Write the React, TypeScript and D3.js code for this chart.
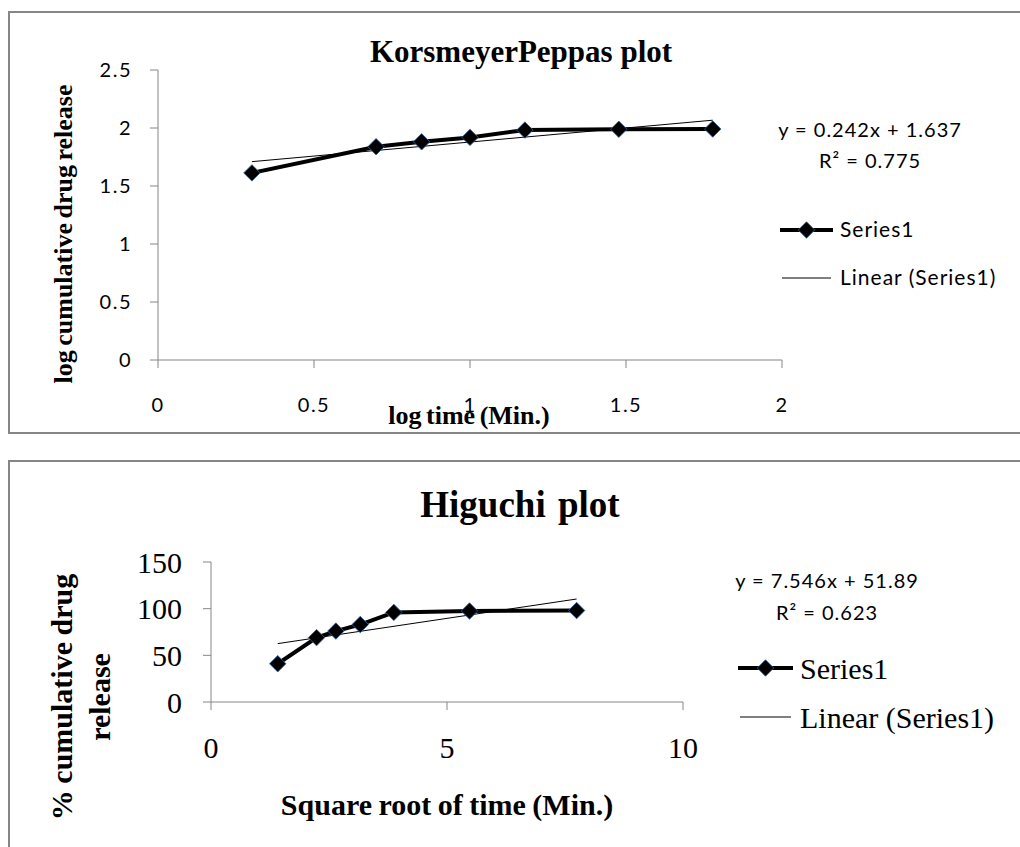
import React from "react";
import * as d3 from "d3";

// Korsmeyer-Peppas: log time (min) vs log cumulative % released
const kpLogTime = [0.301, 0.699, 0.845, 1.0, 1.176, 1.477, 1.778];
const kpLogRelease = [1.613, 1.839, 1.881, 1.919, 1.982, 1.989, 1.991];
const kpXTicks = [0, 0.5, 1, 1.5, 2];
const kpYTicks = [0, 0.5, 1, 1.5, 2, 2.5];
const kpFit = [0.242, 1.637]; // slope, intercept
const kpFitText = ["y = 0.242x + 1.637", "R² = 0.775"];

// Higuchi: square root of time vs % cumulative released
const hgSqrtTime = [1.414, 2.236, 2.646, 3.162, 3.873, 5.477, 7.746];
const hgRelease = [41, 69, 76, 83, 96, 97.5, 98];
const hgXTicks = [0, 5, 10];
const hgYTicks = [0, 50, 100, 150];
const hgFit = [7.546, 51.89];
const hgFitText = ["y = 7.546x + 51.89", "R² = 0.623"];

const legendLabels = ["Series1", "Linear (Series1)"];

const SERIF = '"Liberation Serif", "Times New Roman", serif';
const SANS = 'Lato, "Open Sans", sans-serif';
const AXIS = "#868686";

const diamond = d3.symbol().type(d3.symbolSquare).size(135)();

const Panel = (p: any) => {
  const x = d3.scaleLinear().domain(p.xDomain).range(p.xRange);
  const y = d3.scaleLinear().domain(p.yDomain).range(p.yRange);
  const pts = p.xs.map((v: number, i: number) => [v, p.ys[i]]);
  const line = d3
    .line<number[]>()
    .x((d) => x(d[0]))
    .y((d) => y(d[1]));
  const x0 = d3.min(p.xs) as number;
  const x1 = d3.max(p.xs) as number;
  const fit = [x0, x1].map((v) => [v, p.fit[0] * v + p.fit[1]]);
  const [y0px] = p.yRange;
  const xAxisY = y(0);
  const yAxisX = x(0);

  return (
    <g>
      <rect
        x={p.box[0]}
        y={p.box[1]}
        width={p.box[2]}
        height={p.box[3]}
        fill="white"
        stroke="#868686"
        strokeWidth={2}
      />
      <text
        x={p.titlePos[0]}
        y={p.titlePos[1]}
        textAnchor="middle"
        fontFamily={SERIF}
        fontWeight="bold"
        fontSize={p.titleSize}
        wordSpacing={p.titleWordSpacing}
      >
        {p.title}
      </text>

      {/* axes */}
      <line x1={yAxisX} x2={yAxisX} y1={y(p.yDomain[1])} y2={y0px} stroke={AXIS} />
      <line x1={x(p.xDomain[0])} x2={x(p.xDomain[1])} y1={xAxisY} y2={xAxisY} stroke={AXIS} />
      {p.yTicks.map((t: number) => (
        <g key={"y" + t}>
          <line x1={yAxisX - p.tick} x2={yAxisX} y1={y(t)} y2={y(t)} stroke={AXIS} />
          <text
            x={yAxisX - p.yLabelGap}
            y={y(t)}
            dy="0.35em"
            textAnchor="end"
            fontFamily={p.tickFont}
            fontSize={p.tickSize}
            letterSpacing={p.tickSpacing}
          >
            {d3.format("")(t)}
          </text>
        </g>
      ))}
      {p.xTicks.map((t: number) => (
        <g key={"x" + t}>
          <line x1={x(t)} x2={x(t)} y1={xAxisY} y2={xAxisY + p.tick} stroke={AXIS} />
          <text
            x={x(t)}
            y={p.xLabelBase}
            textAnchor="middle"
            fontFamily={p.tickFont}
            fontSize={p.tickSize}
            letterSpacing={p.tickSpacing}
          >
            {d3.format("")(t)}
          </text>
        </g>
      ))}

      {/* axis titles */}
      <text
        x={p.xTitlePos[0]}
        y={p.xTitlePos[1]}
        textAnchor="middle"
        fontFamily={SERIF}
        fontWeight="bold"
        fontSize={p.axisTitleSize}
        wordSpacing={p.wordSpacing}
      >
        {p.xTitle}
      </text>
      {p.yTitle.map((s: string, i: number) => (
        <text
          key={s}
          transform={`translate(${p.yTitlePos[0] + i * p.yTitleLead},${p.yTitlePos[1]}) rotate(-90)`}
          textAnchor="middle"
          fontFamily={SERIF}
          fontWeight="bold"
          fontSize={p.axisTitleSize}
          wordSpacing={p.wordSpacing}
        >
          {s}
        </text>
      ))}

      {/* series + trendline */}
      <path d={line(pts) || ""} fill="none" stroke="black" strokeWidth={4} strokeLinejoin="round" />
      <path d={line(fit) || ""} fill="none" stroke="black" strokeWidth={1} />
      {pts.map((d: number[], i: number) => (
        <path
          key={i}
          d={diamond || ""}
          transform={`translate(${x(d[0])},${y(d[1])}) rotate(45)`}
          fill="black"
          stroke="#2f5f99"
          strokeWidth={0.8}
        />
      ))}

      {/* fit equation */}
      {p.fitText.map((s: string, i: number) => (
        <text
          key={s}
          x={p.eqPos[0]}
          y={p.eqPos[1] + i * p.eqLead}
          textAnchor="middle"
          fontFamily={SANS}
          fontSize={20}
          letterSpacing={1}
        >
          {s}
        </text>
      ))}

      {/* legend */}
      <line
        x1={p.leg[0]}
        x2={p.leg[1]}
        y1={p.leg[2]}
        y2={p.leg[2]}
        stroke="black"
        strokeWidth={4}
      />
      <path
        d={diamond || ""}
        transform={`translate(${(p.leg[0] + p.leg[1]) / 2},${p.leg[2]}) rotate(45)`}
        fill="black"
        stroke="#2f5f99"
        strokeWidth={0.8}
      />
      <line
        x1={p.leg[0] + 2}
        x2={p.leg[1] - 2}
        y1={p.leg[3]}
        y2={p.leg[3]}
        stroke="black"
        strokeWidth={1}
      />
      {legendLabels.map((s, i) => (
        <text
          key={s}
          x={p.legText}
          y={p.leg[2 + i]}
          dy="0.35em"
          fontFamily={p.legFont}
          fontSize={p.legSize}
          letterSpacing={p.legSpacing}
        >
          {s}
        </text>
      ))}
    </g>
  );
};

export default function App() {
  return (
    <svg
      width={1020}
      height={847}
      style={{ position: "absolute", left: 0, top: 0, background: "white" }}
    >
      <Panel
        box={[9, 12, 1020, 421]}
        title="KorsmeyerPeppas plot"
        titlePos={[521, 62]}
        titleSize={31}
        titleWordSpacing={0}
        xs={kpLogTime}
        ys={kpLogRelease}
        fit={kpFit}
        fitText={kpFitText}
        xDomain={[0, 2]}
        xRange={[158, 782]}
        yDomain={[0, 2.5]}
        yRange={[360, 70]}
        xTicks={kpXTicks}
        yTicks={kpYTicks}
        tick={8}
        yLabelGap={26}
        xLabelBase={412}
        tickFont={SANS}
        tickSize={20}
        tickSpacing={1.5}
        xTitle="log time (Min.)"
        xTitlePos={[469, 424]}
        yTitle={["log cumulative drug release"]}
        yTitlePos={[72, 234]}
        yTitleLead={0}
        axisTitleSize={26}
        wordSpacing={-2}
        eqPos={[870, 137]}
        eqLead={31}
        leg={[780, 833, 230, 278]}
        legText={840}
        legFont={SANS}
        legSize={21}
        legSpacing={1}
      />
      <Panel
        box={[9, 461, 1020, 420]}
        title="Higuchi plot"
        titlePos={[520, 517]}
        titleSize={37}
        titleWordSpacing={3}
        xs={hgSqrtTime}
        ys={hgRelease}
        fit={hgFit}
        fitText={hgFitText}
        xDomain={[0, 10]}
        xRange={[211, 683]}
        yDomain={[0, 150]}
        yRange={[702, 562]}
        xTicks={hgXTicks}
        yTicks={hgYTicks}
        tick={8}
        yLabelGap={29}
        xLabelBase={758}
        tickFont={SERIF}
        tickSize={30}
        tickSpacing={0}
        xTitle="Square root of time (Min.)"
        xTitlePos={[447, 815]}
        yTitle={["% cumulative drug", "release"]}
        yTitlePos={[72, 697]}
        yTitleLead={38}
        axisTitleSize={30}
        wordSpacing={-1}
        eqPos={[827, 588]}
        eqLead={32}
        leg={[738, 793, 668, 717]}
        legText={800}
        legFont={SERIF}
        legSize={30}
        legSpacing={0}
      />
    </svg>
  );
}
